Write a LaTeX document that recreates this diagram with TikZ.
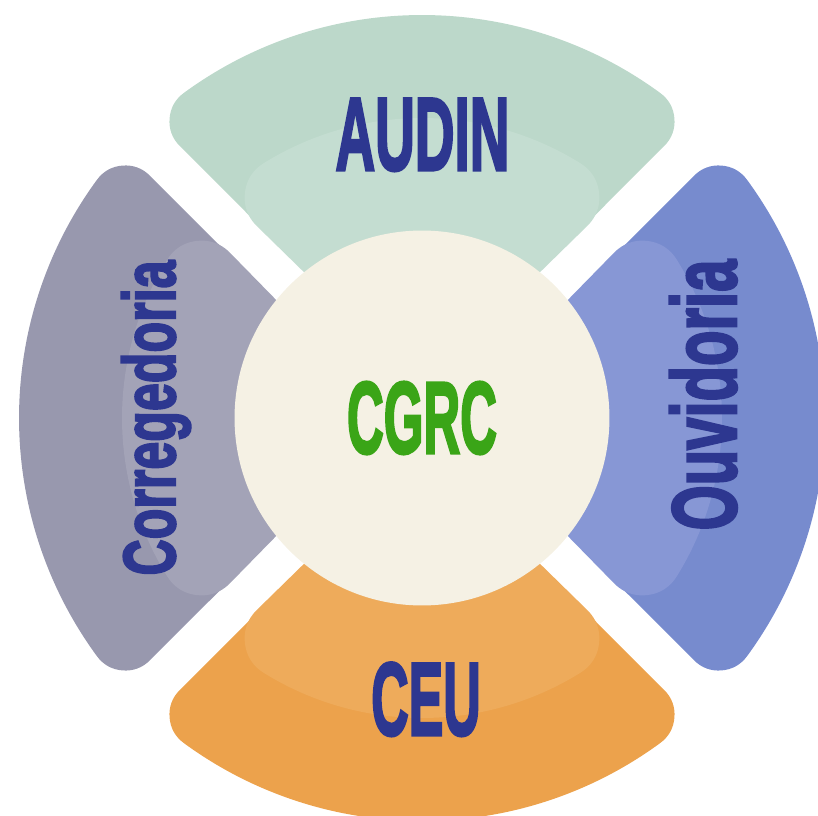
\documentclass[tikz,border=0pt]{standalone}
\usepackage{fontspec}
\usepackage{graphicx}
\newfontfamily\labelfont{Liberation Sans}[BoldFeatures={FakeBold=3}]
\definecolor{audincol}{HTML}{BCD8CA}
\definecolor{audincolL}{HTML}{C4DDD1}
\definecolor{corregcol}{HTML}{9898AE}
\definecolor{corregcolL}{HTML}{A3A3B7}
\definecolor{ceucol}{HTML}{ECA24C}
\definecolor{ceucolL}{HTML}{EEAB5B}
\definecolor{ouvidcol}{HTML}{778BCE}
\definecolor{ouvidcolL}{HTML}{8797D5}
\definecolor{cream}{HTML}{F5F1E4}
\definecolor{navy}{HTML}{2D3790}
\definecolor{cgrcgreen}{HTML}{3AA517}
\usetikzlibrary{positioning}

\tikzset{
  seg/.style={fill=#1, draw=#1, line width=1.4cm, line join=round},
  lbl/.style={text=navy, inner sep=0pt, anchor=base,
    font=\labelfont\bfseries\fontsize{#1}{#1}\selectfont},
}

\begin{document}
\begin{tikzpicture}[x=0.02cm, y=0.02cm]

\useasboundingbox (-422,-397) rectangle (396,418);

% four rounded segments, each with a lighter inner band
\foreach \ang/\col in {0/audincol, 90/corregcol, 180/ceucol, 270/ouvidcol} {
  \begin{scope}[rotate=\ang]
    \path [seg=\col] (0,79.2) -- (53.76:368)
      arc [start angle=53.76, end angle=126.24, radius=368] -- cycle;
    \path [seg=\col L, line width=1.6cm] (0,86.3) -- (58.1:260)
      arc [start angle=58.1, end angle=121.9, radius=260] -- cycle;
  \end{scope}
}

\node [circle, fill=cream, minimum size=7.5cm, inner sep=0pt, text=cgrcgreen,
  font=\labelfont\bfseries\fontsize{58}{58}\selectfont] (cgrc) at (0,0)
  {\scalebox{0.5}[1]{CGRC}};

\node [lbl=59] (audin) at (0.5,248) {\scalebox{0.53}[1]{AUDIN}};
\node [lbl=59] (ceu) at (4,-317) {\scalebox{0.5}[1]{CEU}};
\node [lbl=42, rotate=90] (correg) at (-247,0) {\scalebox{0.68}[1]{Corregedoria}};
\node [lbl=52, rotate=90] (ouvid) at (314,23) {\scalebox{0.635}[1]{Ouvidoria}};

\end{tikzpicture}
\end{document}
